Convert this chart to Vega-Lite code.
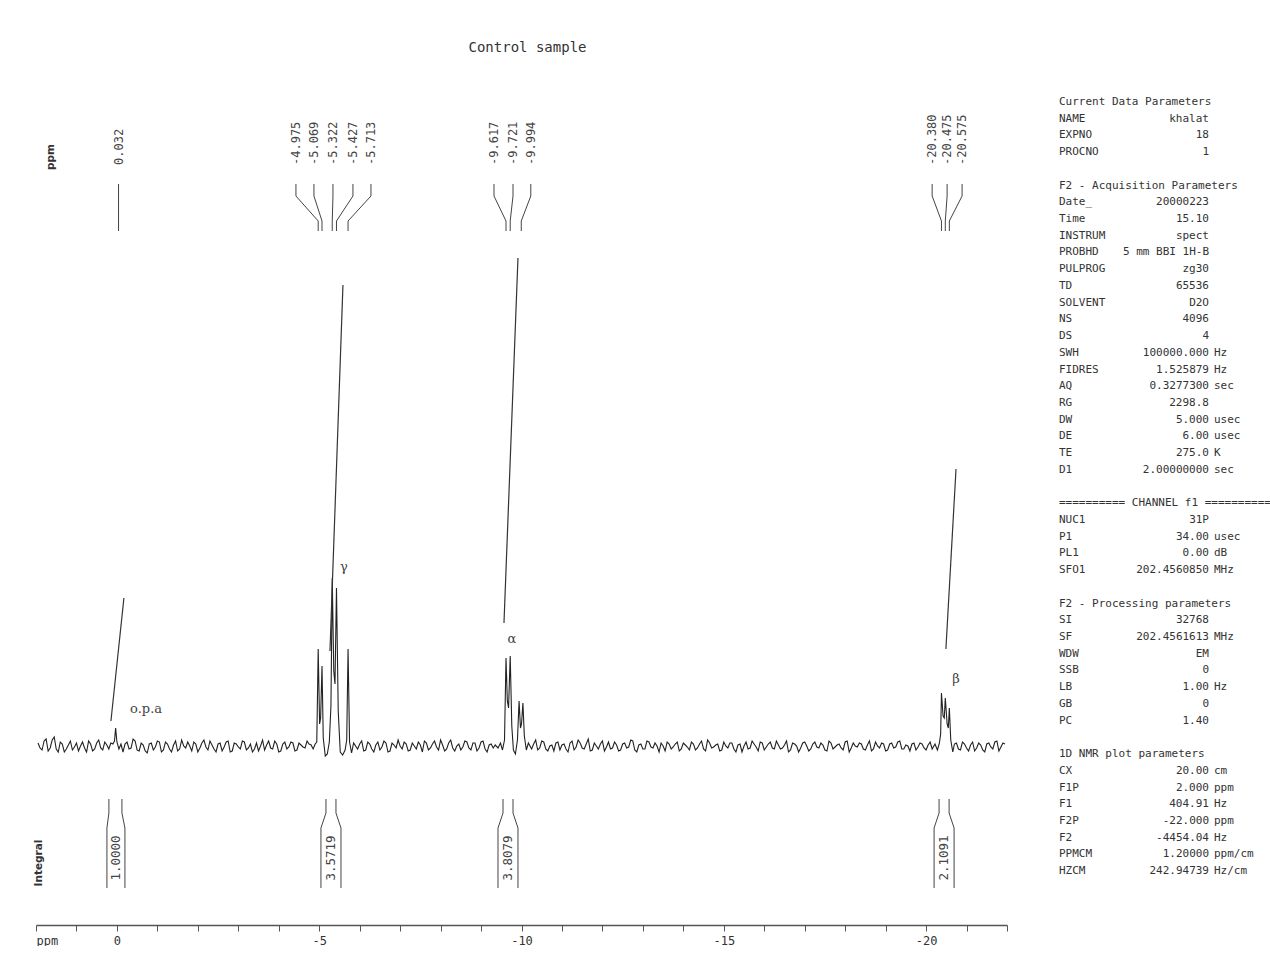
{
  "$schema": "https://vega.github.io/schema/vega-lite/v6.json",
  "background": "white",
  "padding": {"left": 33, "top": 41, "right": 0, "bottom": 0},
  "bounds": "flush",
  "spacing": 52,
  "config": {"view": {"stroke": null}},
  "datasets": {
    "spectrum": [
      {"ppm":1.95,"intensity":3},{"ppm":1.85,"intensity":-4},{"ppm":1.75,"intensity":7},{"ppm":1.65,"intensity":-2},{"ppm":1.55,"intensity":9},{"ppm":1.45,"intensity":-6},{"ppm":1.35,"intensity":2},{"ppm":1.25,"intensity":-3},{"ppm":1.15,"intensity":5},{"ppm":1.05,"intensity":-1},
      {"ppm":0.95,"intensity":-5},{"ppm":0.85,"intensity":4},{"ppm":0.75,"intensity":-6},{"ppm":0.65,"intensity":2},{"ppm":0.55,"intensity":-3},{"ppm":0.45,"intensity":6},{"ppm":0.35,"intensity":-4},{"ppm":0.25,"intensity":1},{"ppm":0.15,"intensity":3},
      {"ppm":1.9,"intensity":-2},{"ppm":1.8,"intensity":5},{"ppm":1.7,"intensity":-5},{"ppm":1.6,"intensity":6},{"ppm":1.5,"intensity":-3},{"ppm":1.4,"intensity":4},{"ppm":1.3,"intensity":-6},{"ppm":1.2,"intensity":1},{"ppm":1.1,"intensity":-4},{"ppm":1.0,"intensity":3},
      {"ppm":0.9,"intensity":0},{"ppm":0.8,"intensity":-2},{"ppm":0.7,"intensity":5},{"ppm":0.6,"intensity":-5},{"ppm":0.5,"intensity":3},{"ppm":0.4,"intensity":-2},{"ppm":0.3,"intensity":4},{"ppm":0.2,"intensity":-3},
      {"ppm":0.1,"intensity":2},{"ppm":0.06,"intensity":5},{"ppm":0.032,"intensity":18},{"ppm":0.0,"intensity":4},{"ppm":-0.05,"intensity":-3},{"ppm":-0.1,"intensity":2},
      {"ppm":-0.15,"intensity":-6},{"ppm":-0.25,"intensity":4},{"ppm":-0.35,"intensity":-2},{"ppm":-0.45,"intensity":5},{"ppm":-0.55,"intensity":-5},{"ppm":-0.65,"intensity":1},{"ppm":-0.75,"intensity":-7},{"ppm":-0.85,"intensity":3},{"ppm":-0.95,"intensity":-1},
      {"ppm":-1.05,"intensity":4},{"ppm":-1.15,"intensity":-4},{"ppm":-1.25,"intensity":2},{"ppm":-1.35,"intensity":-6},{"ppm":-1.45,"intensity":5},{"ppm":-1.55,"intensity":-3},{"ppm":-1.65,"intensity":0},{"ppm":-1.75,"intensity":4},{"ppm":-1.85,"intensity":-5},{"ppm":-1.95,"intensity":2},
      {"ppm":-2.05,"intensity":-2},{"ppm":-2.15,"intensity":6},{"ppm":-2.25,"intensity":-4},{"ppm":-2.35,"intensity":1},{"ppm":-2.45,"intensity":-6},{"ppm":-2.55,"intensity":3},{"ppm":-2.65,"intensity":-1},{"ppm":-2.75,"intensity":5},{"ppm":-2.85,"intensity":-5},{"ppm":-2.95,"intensity":2},
      {"ppm":-3.05,"intensity":-3},{"ppm":-3.15,"intensity":4},{"ppm":-3.25,"intensity":-2},{"ppm":-3.35,"intensity":-6},{"ppm":-3.45,"intensity":3},{"ppm":-3.55,"intensity":0},{"ppm":-3.65,"intensity":-4},{"ppm":-3.75,"intensity":5},{"ppm":-3.85,"intensity":-3},{"ppm":-3.95,"intensity":2},
      {"ppm":-4.05,"intensity":-5},{"ppm":-4.15,"intensity":4},{"ppm":-4.25,"intensity":-1},{"ppm":-4.35,"intensity":3},{"ppm":-4.45,"intensity":-4},{"ppm":-4.55,"intensity":1},{"ppm":-4.65,"intensity":-2},{"ppm":-4.75,"intensity":2},
      {"ppm":-0.2,"intensity":2},{"ppm":-0.3,"intensity":-3},{"ppm":-0.4,"intensity":7},{"ppm":-0.5,"intensity":-4},{"ppm":-0.6,"intensity":3},{"ppm":-0.7,"intensity":-5},{"ppm":-0.8,"intensity":2},{"ppm":-0.9,"intensity":-4},{"ppm":-1.0,"intensity":5},{"ppm":-1.1,"intensity":-6},
      {"ppm":-1.2,"intensity":4},{"ppm":-1.3,"intensity":-3},{"ppm":-1.4,"intensity":1},{"ppm":-1.5,"intensity":-5},{"ppm":-1.6,"intensity":6},{"ppm":-1.7,"intensity":-2},{"ppm":-1.8,"intensity":0},{"ppm":-1.9,"intensity":4},{"ppm":-2.0,"intensity":-6},{"ppm":-2.1,"intensity":3},
      {"ppm":-2.2,"intensity":-1},{"ppm":-2.3,"intensity":5},{"ppm":-2.4,"intensity":-3},{"ppm":-2.5,"intensity":2},{"ppm":-2.6,"intensity":-5},{"ppm":-2.7,"intensity":4},{"ppm":-2.8,"intensity":-6},{"ppm":-2.9,"intensity":3},{"ppm":-3.0,"intensity":-1},{"ppm":-3.1,"intensity":5},
      {"ppm":-3.2,"intensity":-4},{"ppm":-3.3,"intensity":2},{"ppm":-3.4,"intensity":-3},{"ppm":-3.5,"intensity":-5},{"ppm":-3.6,"intensity":6},{"ppm":-3.7,"intensity":1},{"ppm":-3.8,"intensity":-2},{"ppm":-3.9,"intensity":5},{"ppm":-4.0,"intensity":-6},{"ppm":-4.1,"intensity":2},
      {"ppm":-4.2,"intensity":-3},{"ppm":-4.3,"intensity":4},{"ppm":-4.4,"intensity":-5},{"ppm":-4.5,"intensity":3},{"ppm":-4.6,"intensity":-1},{"ppm":-4.7,"intensity":5},
      {"ppm":-4.8,"intensity":1},{"ppm":-4.85,"intensity":-3},{"ppm":-4.9,"intensity":2},{"ppm":-4.94,"intensity":4},{"ppm":-4.975,"intensity":97},{"ppm":-5.01,"intensity":22},{"ppm":-5.035,"intensity":28},{"ppm":-5.069,"intensity":80},{"ppm":-5.1,"intensity":8},{"ppm":-5.15,"intensity":-10},{"ppm":-5.2,"intensity":-8},{"ppm":-5.25,"intensity":4},{"ppm":-5.29,"intensity":40},{"ppm":-5.322,"intensity":168},{"ppm":-5.36,"intensity":75},{"ppm":-5.39,"intensity":62},{"ppm":-5.427,"intensity":158},{"ppm":-5.47,"intensity":35},{"ppm":-5.52,"intensity":-6},{"ppm":-5.58,"intensity":-9},{"ppm":-5.64,"intensity":-4},{"ppm":-5.68,"intensity":6},{"ppm":-5.713,"intensity":97},{"ppm":-5.75,"intensity":4},{"ppm":-5.8,"intensity":-7},{"ppm":-5.85,"intensity":3},
      {"ppm":-5.95,"intensity":-3},{"ppm":-6.05,"intensity":5},{"ppm":-6.15,"intensity":-4},{"ppm":-6.25,"intensity":2},{"ppm":-6.35,"intensity":-6},{"ppm":-6.45,"intensity":4},{"ppm":-6.55,"intensity":-1},{"ppm":-6.65,"intensity":3},{"ppm":-6.75,"intensity":-5},{"ppm":-6.85,"intensity":1},
      {"ppm":-6.95,"intensity":6},{"ppm":-7.05,"intensity":-3},{"ppm":-7.15,"intensity":2},{"ppm":-7.25,"intensity":-4},{"ppm":-7.35,"intensity":0},{"ppm":-7.45,"intensity":4},{"ppm":-7.55,"intensity":-6},{"ppm":-7.65,"intensity":3},{"ppm":-7.75,"intensity":-2},{"ppm":-7.85,"intensity":5},
      {"ppm":-7.95,"intensity":-4},{"ppm":-8.05,"intensity":1},{"ppm":-8.15,"intensity":-3},{"ppm":-8.25,"intensity":6},{"ppm":-8.35,"intensity":-5},{"ppm":-8.45,"intensity":2},{"ppm":-8.55,"intensity":-1},{"ppm":-8.65,"intensity":4},{"ppm":-8.75,"intensity":-4},{"ppm":-8.85,"intensity":3},
      {"ppm":-8.95,"intensity":-2},{"ppm":-9.05,"intensity":5},{"ppm":-9.15,"intensity":-6},{"ppm":-9.25,"intensity":2},{"ppm":-9.35,"intensity":1},
      {"ppm":-6.0,"intensity":2},{"ppm":-6.1,"intensity":-5},{"ppm":-6.2,"intensity":4},{"ppm":-6.3,"intensity":-3},{"ppm":-6.4,"intensity":1},{"ppm":-6.5,"intensity":-4},{"ppm":-6.6,"intensity":5},{"ppm":-6.7,"intensity":-6},{"ppm":-6.8,"intensity":3},{"ppm":-6.9,"intensity":-2},
      {"ppm":-7.0,"intensity":0},{"ppm":-7.1,"intensity":4},{"ppm":-7.2,"intensity":-5},{"ppm":-7.3,"intensity":3},{"ppm":-7.4,"intensity":-3},{"ppm":-7.5,"intensity":1},{"ppm":-7.6,"intensity":5},{"ppm":-7.7,"intensity":-4},{"ppm":-7.8,"intensity":2},{"ppm":-7.9,"intensity":-1},
      {"ppm":-8.0,"intensity":6},{"ppm":-8.1,"intensity":-5},{"ppm":-8.2,"intensity":3},{"ppm":-8.3,"intensity":-2},{"ppm":-8.4,"intensity":0},{"ppm":-8.5,"intensity":-4},{"ppm":-8.6,"intensity":5},{"ppm":-8.7,"intensity":-2},{"ppm":-8.8,"intensity":3},{"ppm":-8.9,"intensity":-5},
      {"ppm":-9.0,"intensity":4},{"ppm":-9.1,"intensity":-3},{"ppm":-9.2,"intensity":1},{"ppm":-9.3,"intensity":-2},
      {"ppm":-9.42,"intensity":-2},{"ppm":-9.48,"intensity":3},{"ppm":-9.53,"intensity":-4},{"ppm":-9.58,"intensity":6},{"ppm":-9.617,"intensity":88},{"ppm":-9.65,"intensity":45},{"ppm":-9.68,"intensity":38},{"ppm":-9.721,"intensity":90},{"ppm":-9.76,"intensity":20},{"ppm":-9.8,"intensity":-4},{"ppm":-9.85,"intensity":-8},{"ppm":-9.9,"intensity":6},{"ppm":-9.94,"intensity":45},{"ppm":-9.975,"intensity":18},{"ppm":-10.0,"intensity":22},{"ppm":-10.035,"intensity":43},{"ppm":-10.07,"intensity":10},{"ppm":-10.12,"intensity":-4},{"ppm":-10.17,"intensity":3},
      {"ppm":-10.25,"intensity":-3},{"ppm":-10.35,"intensity":6},{"ppm":-10.45,"intensity":-2},{"ppm":-10.55,"intensity":4},{"ppm":-10.65,"intensity":-5},{"ppm":-10.75,"intensity":1},{"ppm":-10.85,"intensity":3},{"ppm":-10.95,"intensity":-4},{"ppm":-11.05,"intensity":2},{"ppm":-11.15,"intensity":-6},
      {"ppm":-11.25,"intensity":5},{"ppm":-11.35,"intensity":-1},{"ppm":-11.45,"intensity":3},{"ppm":-11.55,"intensity":-3},{"ppm":-11.65,"intensity":7},{"ppm":-11.75,"intensity":-4},{"ppm":-11.85,"intensity":0},{"ppm":-11.95,"intensity":2},{"ppm":-12.05,"intensity":-5},{"ppm":-12.15,"intensity":4},
      {"ppm":-12.25,"intensity":-2},{"ppm":-12.35,"intensity":1},{"ppm":-12.45,"intensity":-4},{"ppm":-12.55,"intensity":3},{"ppm":-12.65,"intensity":-1},{"ppm":-12.75,"intensity":5},{"ppm":-12.85,"intensity":-6},{"ppm":-12.95,"intensity":2},{"ppm":-13.05,"intensity":-3},{"ppm":-13.15,"intensity":4},
      {"ppm":-13.25,"intensity":-2},{"ppm":-13.35,"intensity":0},{"ppm":-13.45,"intensity":3},{"ppm":-13.55,"intensity":-5},{"ppm":-13.65,"intensity":2},{"ppm":-13.75,"intensity":-1},{"ppm":-13.85,"intensity":4},{"ppm":-13.95,"intensity":-3},{"ppm":-14.05,"intensity":1},{"ppm":-14.15,"intensity":-4},
      {"ppm":-14.25,"intensity":2},{"ppm":-14.35,"intensity":-2},{"ppm":-14.45,"intensity":5},{"ppm":-14.55,"intensity":-5},{"ppm":-14.65,"intensity":3},{"ppm":-14.75,"intensity":-1},{"ppm":-14.85,"intensity":2},{"ppm":-14.95,"intensity":-4},{"ppm":-15.05,"intensity":0},{"ppm":-15.15,"intensity":3},
      {"ppm":-15.25,"intensity":-3},{"ppm":-15.35,"intensity":1},{"ppm":-15.45,"intensity":-6},{"ppm":-15.55,"intensity":4},{"ppm":-15.65,"intensity":-2},{"ppm":-15.75,"intensity":2},{"ppm":-15.85,"intensity":-5},{"ppm":-15.95,"intensity":3},{"ppm":-16.05,"intensity":-1},{"ppm":-16.15,"intensity":4},
      {"ppm":-16.25,"intensity":-3},{"ppm":-16.35,"intensity":1},{"ppm":-16.45,"intensity":-2},{"ppm":-16.55,"intensity":5},{"ppm":-16.65,"intensity":-4},{"ppm":-16.75,"intensity":2},{"ppm":-16.85,"intensity":-6},{"ppm":-16.95,"intensity":3},{"ppm":-17.05,"intensity":0},{"ppm":-17.15,"intensity":-3},
      {"ppm":-17.25,"intensity":4},{"ppm":-17.35,"intensity":-2},{"ppm":-17.45,"intensity":1},{"ppm":-17.55,"intensity":-5},{"ppm":-17.65,"intensity":3},{"ppm":-17.75,"intensity":-1},{"ppm":-17.85,"intensity":2},{"ppm":-17.95,"intensity":-4},{"ppm":-18.05,"intensity":5},{"ppm":-18.15,"intensity":-2},
      {"ppm":-18.25,"intensity":0},{"ppm":-18.35,"intensity":3},{"ppm":-18.45,"intensity":-3},{"ppm":-18.55,"intensity":1},{"ppm":-18.65,"intensity":-5},{"ppm":-18.75,"intensity":4},{"ppm":-18.85,"intensity":-2},{"ppm":-18.95,"intensity":2},{"ppm":-19.05,"intensity":-4},{"ppm":-19.15,"intensity":3},
      {"ppm":-19.25,"intensity":-1},{"ppm":-19.35,"intensity":5},{"ppm":-19.45,"intensity":-3},{"ppm":-19.55,"intensity":0},{"ppm":-19.65,"intensity":2},{"ppm":-19.75,"intensity":-4},{"ppm":-19.85,"intensity":3},{"ppm":-19.95,"intensity":-2},{"ppm":-20.05,"intensity":1},{"ppm":-20.15,"intensity":-3},
      {"ppm":-10.3,"intensity":2},{"ppm":-10.4,"intensity":-4},{"ppm":-10.5,"intensity":5},{"ppm":-10.6,"intensity":-3},{"ppm":-10.7,"intensity":0},{"ppm":-10.8,"intensity":-5},{"ppm":-10.9,"intensity":4},{"ppm":-11.0,"intensity":1},{"ppm":-11.1,"intensity":-3},{"ppm":-11.2,"intensity":3},
      {"ppm":-11.3,"intensity":-4},{"ppm":-11.4,"intensity":6},{"ppm":-11.5,"intensity":-2},{"ppm":-11.6,"intensity":2},{"ppm":-11.7,"intensity":-5},{"ppm":-11.8,"intensity":3},{"ppm":-11.9,"intensity":-3},{"ppm":-12.0,"intensity":5},{"ppm":-12.1,"intensity":-1},{"ppm":-12.2,"intensity":-3},
      {"ppm":-12.3,"intensity":4},{"ppm":-12.4,"intensity":-5},{"ppm":-12.5,"intensity":2},{"ppm":-12.6,"intensity":-2},{"ppm":-12.7,"intensity":6},{"ppm":-12.8,"intensity":-4},{"ppm":-12.9,"intensity":1},{"ppm":-13.0,"intensity":-3},{"ppm":-13.1,"intensity":5},{"ppm":-13.2,"intensity":-1},
      {"ppm":-13.3,"intensity":3},{"ppm":-13.4,"intensity":-6},{"ppm":-13.5,"intensity":0},{"ppm":-13.6,"intensity":4},{"ppm":-13.7,"intensity":-3},{"ppm":-13.8,"intensity":2},{"ppm":-13.9,"intensity":-5},{"ppm":-14.0,"intensity":3},{"ppm":-14.1,"intensity":-1},{"ppm":-14.2,"intensity":4},
      {"ppm":-14.3,"intensity":-4},{"ppm":-14.4,"intensity":2},{"ppm":-14.5,"intensity":-3},{"ppm":-14.6,"intensity":6},{"ppm":-14.7,"intensity":-2},{"ppm":-14.8,"intensity":1},{"ppm":-14.9,"intensity":-5},{"ppm":-15.0,"intensity":4},{"ppm":-15.1,"intensity":-2},{"ppm":-15.2,"intensity":3},
      {"ppm":-15.3,"intensity":-6},{"ppm":-15.4,"intensity":2},{"ppm":-15.5,"intensity":0},{"ppm":-15.6,"intensity":-3},{"ppm":-15.7,"intensity":5},{"ppm":-15.8,"intensity":-1},{"ppm":-15.9,"intensity":4},{"ppm":-16.0,"intensity":-4},{"ppm":-16.1,"intensity":2},{"ppm":-16.2,"intensity":-2},
      {"ppm":-16.3,"intensity":5},{"ppm":-16.4,"intensity":-3},{"ppm":-16.5,"intensity":1},{"ppm":-16.6,"intensity":-6},{"ppm":-16.7,"intensity":3},{"ppm":-16.8,"intensity":0},{"ppm":-16.9,"intensity":-2},{"ppm":-17.0,"intensity":4},{"ppm":-17.1,"intensity":-5},{"ppm":-17.2,"intensity":2},
      {"ppm":-17.3,"intensity":-1},{"ppm":-17.4,"intensity":3},{"ppm":-17.5,"intensity":-4},{"ppm":-17.6,"intensity":5},{"ppm":-17.7,"intensity":-3},{"ppm":-17.8,"intensity":1},{"ppm":-17.9,"intensity":-2},{"ppm":-18.0,"intensity":4},{"ppm":-18.1,"intensity":-6},{"ppm":-18.2,"intensity":3},
      {"ppm":-18.3,"intensity":-1},{"ppm":-18.4,"intensity":2},{"ppm":-18.5,"intensity":-4},{"ppm":-18.6,"intensity":5},{"ppm":-18.7,"intensity":-3},{"ppm":-18.8,"intensity":0},{"ppm":-18.9,"intensity":3},{"ppm":-19.0,"intensity":-5},{"ppm":-19.1,"intensity":2},{"ppm":-19.2,"intensity":-2},
      {"ppm":-19.3,"intensity":4},{"ppm":-19.4,"intensity":-3},{"ppm":-19.5,"intensity":1},{"ppm":-19.6,"intensity":-5},{"ppm":-19.7,"intensity":3},{"ppm":-19.8,"intensity":-1},{"ppm":-19.9,"intensity":2},{"ppm":-20.0,"intensity":-4},{"ppm":-20.1,"intensity":4},
      {"ppm":-20.22,"intensity":2},{"ppm":-20.28,"intensity":-4},{"ppm":-20.33,"intensity":3},{"ppm":-20.36,"intensity":12},{"ppm":-20.38,"intensity":53},{"ppm":-20.42,"intensity":30},{"ppm":-20.45,"intensity":28},{"ppm":-20.475,"intensity":48},{"ppm":-20.52,"intensity":22},{"ppm":-20.55,"intensity":18},{"ppm":-20.575,"intensity":38},{"ppm":-20.61,"intensity":6},{"ppm":-20.66,"intensity":-6},{"ppm":-20.7,"intensity":2},
      {"ppm":-20.75,"intensity":3},{"ppm":-20.85,"intensity":-4},{"ppm":-20.95,"intensity":2},{"ppm":-21.05,"intensity":-5},{"ppm":-21.15,"intensity":4},{"ppm":-21.25,"intensity":-2},{"ppm":-21.35,"intensity":1},{"ppm":-21.45,"intensity":-6},{"ppm":-21.55,"intensity":3},{"ppm":-21.65,"intensity":-3},{"ppm":-21.75,"intensity":5},{"ppm":-21.85,"intensity":-1},{"ppm":-21.95,"intensity":2},
      {"ppm":-20.8,"intensity":-3},{"ppm":-20.9,"intensity":4},{"ppm":-21.0,"intensity":-2},{"ppm":-21.1,"intensity":1},{"ppm":-21.2,"intensity":-5},{"ppm":-21.3,"intensity":3},{"ppm":-21.4,"intensity":-4},{"ppm":-21.5,"intensity":2},{"ppm":-21.6,"intensity":-1},{"ppm":-21.7,"intensity":4},{"ppm":-21.8,"intensity":-5},{"ppm":-21.9,"intensity":3}
    ],
    "integrals": [
      {"region":"opa","ppm":0.148,"intensity":25},{"region":"opa","ppm":-0.173,"intensity":148},
      {"region":"gamma","ppm":-5.266,"intensity":95},{"region":"gamma","ppm":-5.587,"intensity":461},
      {"region":"alpha","ppm":-9.567,"intensity":123},{"region":"alpha","ppm":-9.913,"intensity":488},
      {"region":"beta","ppm":-20.49,"intensity":97},{"region":"beta","ppm":-20.74,"intensity":277}
    ],
    "connectors": [
      {"peak":"0.032","ppm":-0.04,"intensity":562,"ord":1},{"peak":"0.032","ppm":-0.04,"intensity":515,"ord":2},
      {"peak":"-4.975","ppm":-4.425,"intensity":562,"ord":1},{"peak":"-4.975","ppm":-4.425,"intensity":550,"ord":2},{"peak":"-4.975","ppm":-4.975,"intensity":525,"ord":3},{"peak":"-4.975","ppm":-4.975,"intensity":515,"ord":4},
      {"peak":"-5.069","ppm":-4.87,"intensity":562,"ord":1},{"peak":"-5.069","ppm":-4.87,"intensity":550,"ord":2},{"peak":"-5.069","ppm":-5.069,"intensity":525,"ord":3},{"peak":"-5.069","ppm":-5.069,"intensity":515,"ord":4},
      {"peak":"-5.322","ppm":-5.34,"intensity":562,"ord":1},{"peak":"-5.322","ppm":-5.34,"intensity":550,"ord":2},{"peak":"-5.322","ppm":-5.322,"intensity":525,"ord":3},{"peak":"-5.322","ppm":-5.322,"intensity":515,"ord":4},
      {"peak":"-5.427","ppm":-5.834,"intensity":562,"ord":1},{"peak":"-5.427","ppm":-5.834,"intensity":550,"ord":2},{"peak":"-5.427","ppm":-5.427,"intensity":525,"ord":3},{"peak":"-5.427","ppm":-5.427,"intensity":515,"ord":4},
      {"peak":"-5.713","ppm":-6.279,"intensity":562,"ord":1},{"peak":"-5.713","ppm":-6.279,"intensity":550,"ord":2},{"peak":"-5.713","ppm":-5.713,"intensity":525,"ord":3},{"peak":"-5.713","ppm":-5.713,"intensity":515,"ord":4},
      {"peak":"-9.617","ppm":-9.32,"intensity":562,"ord":1},{"peak":"-9.617","ppm":-9.32,"intensity":550,"ord":2},{"peak":"-9.617","ppm":-9.617,"intensity":525,"ord":3},{"peak":"-9.617","ppm":-9.617,"intensity":515,"ord":4},
      {"peak":"-9.721","ppm":-9.79,"intensity":562,"ord":1},{"peak":"-9.721","ppm":-9.79,"intensity":550,"ord":2},{"peak":"-9.721","ppm":-9.721,"intensity":525,"ord":3},{"peak":"-9.721","ppm":-9.721,"intensity":515,"ord":4},
      {"peak":"-9.994","ppm":-10.23,"intensity":562,"ord":1},{"peak":"-9.994","ppm":-10.23,"intensity":550,"ord":2},{"peak":"-9.994","ppm":-9.994,"intensity":525,"ord":3},{"peak":"-9.994","ppm":-9.994,"intensity":515,"ord":4},
      {"peak":"-20.380","ppm":-20.15,"intensity":562,"ord":1},{"peak":"-20.380","ppm":-20.15,"intensity":550,"ord":2},{"peak":"-20.380","ppm":-20.38,"intensity":525,"ord":3},{"peak":"-20.380","ppm":-20.38,"intensity":515,"ord":4},
      {"peak":"-20.475","ppm":-20.52,"intensity":562,"ord":1},{"peak":"-20.475","ppm":-20.52,"intensity":550,"ord":2},{"peak":"-20.475","ppm":-20.475,"intensity":525,"ord":3},{"peak":"-20.475","ppm":-20.475,"intensity":515,"ord":4},
      {"peak":"-20.575","ppm":-20.89,"intensity":562,"ord":1},{"peak":"-20.575","ppm":-20.89,"intensity":550,"ord":2},{"peak":"-20.575","ppm":-20.575,"intensity":525,"ord":3},{"peak":"-20.575","ppm":-20.575,"intensity":515,"ord":4}
    ],
    "peaklabels": [
      {"label":"0.032","ppm":-0.04,"intensity":581},
      {"label":"-4.975","ppm":-4.425,"intensity":581},{"label":"-5.069","ppm":-4.87,"intensity":581},{"label":"-5.322","ppm":-5.34,"intensity":581},{"label":"-5.427","ppm":-5.834,"intensity":581},{"label":"-5.713","ppm":-6.279,"intensity":581},
      {"label":"-9.617","ppm":-9.32,"intensity":581},{"label":"-9.721","ppm":-9.79,"intensity":581},{"label":"-9.994","ppm":-10.23,"intensity":581},
      {"label":"-20.380","ppm":-20.15,"intensity":581},{"label":"-20.475","ppm":-20.52,"intensity":581},{"label":"-20.575","ppm":-20.89,"intensity":581}
    ],
    "brackets": [
      {"id":"i1L","ppm":0.198,"intensity":-53,"ord":1},{"id":"i1L","ppm":0.198,"intensity":-67,"ord":2},{"id":"i1L","ppm":0.247,"intensity":-82,"ord":3},{"id":"i1L","ppm":0.247,"intensity":-142,"ord":4},
      {"id":"i1R","ppm":-0.124,"intensity":-53,"ord":1},{"id":"i1R","ppm":-0.124,"intensity":-67,"ord":2},{"id":"i1R","ppm":-0.198,"intensity":-82,"ord":3},{"id":"i1R","ppm":-0.198,"intensity":-142,"ord":4},
      {"id":"i2L","ppm":-5.167,"intensity":-53,"ord":1},{"id":"i2L","ppm":-5.167,"intensity":-67,"ord":2},{"id":"i2L","ppm":-5.043,"intensity":-82,"ord":3},{"id":"i2L","ppm":-5.043,"intensity":-142,"ord":4},
      {"id":"i2R","ppm":-5.414,"intensity":-53,"ord":1},{"id":"i2R","ppm":-5.414,"intensity":-67,"ord":2},{"id":"i2R","ppm":-5.538,"intensity":-82,"ord":3},{"id":"i2R","ppm":-5.538,"intensity":-142,"ord":4},
      {"id":"i3L","ppm":-9.543,"intensity":-53,"ord":1},{"id":"i3L","ppm":-9.543,"intensity":-67,"ord":2},{"id":"i3L","ppm":-9.419,"intensity":-82,"ord":3},{"id":"i3L","ppm":-9.419,"intensity":-142,"ord":4},
      {"id":"i3R","ppm":-9.79,"intensity":-53,"ord":1},{"id":"i3R","ppm":-9.79,"intensity":-67,"ord":2},{"id":"i3R","ppm":-9.913,"intensity":-82,"ord":3},{"id":"i3R","ppm":-9.913,"intensity":-142,"ord":4},
      {"id":"i4L","ppm":-20.321,"intensity":-53,"ord":1},{"id":"i4L","ppm":-20.321,"intensity":-67,"ord":2},{"id":"i4L","ppm":-20.198,"intensity":-82,"ord":3},{"id":"i4L","ppm":-20.198,"intensity":-142,"ord":4},
      {"id":"i4R","ppm":-20.569,"intensity":-53,"ord":1},{"id":"i4R","ppm":-20.569,"intensity":-67,"ord":2},{"id":"i4R","ppm":-20.692,"intensity":-82,"ord":3},{"id":"i4R","ppm":-20.692,"intensity":-142,"ord":4}
    ],
    "integralvalues": [
      {"value":"1.0000","ppm":0.025,"intensity":-112},{"value":"3.5719","ppm":-5.29,"intensity":-112},{"value":"3.8079","ppm":-9.666,"intensity":-112},{"value":"2.1091","ppm":-20.445,"intensity":-112}
    ],
    "annotations": [
      {"label":"o.p.a","ppm":-0.72,"intensity":37},{"label":"γ","ppm":-5.61,"intensity":179},{"label":"α","ppm":-9.765,"intensity":107},{"label":"β","ppm":-20.74,"intensity":67}
    ],
    "sidelabels": [
      {"label":"ppm","ppm":1.63,"intensity":589},{"label":"Integral","ppm":1.93,"intensity":-117}
    ],
    "params": [
      {"line":1,"label":"Current Data Parameters","value":"","unit":""},
      {"line":2,"label":"NAME","value":"khalat","unit":""},
      {"line":3,"label":"EXPNO","value":"18","unit":""},
      {"line":4,"label":"PROCNO","value":"1","unit":""},
      {"line":6,"label":"F2 - Acquisition Parameters","value":"","unit":""},
      {"line":7,"label":"Date_","value":"20000223","unit":""},
      {"line":8,"label":"Time","value":"15.10","unit":""},
      {"line":9,"label":"INSTRUM","value":"spect","unit":""},
      {"line":10,"label":"PROBHD","value":"5 mm BBI 1H-B","unit":""},
      {"line":11,"label":"PULPROG","value":"zg30","unit":""},
      {"line":12,"label":"TD","value":"65536","unit":""},
      {"line":13,"label":"SOLVENT","value":"D2O","unit":""},
      {"line":14,"label":"NS","value":"4096","unit":""},
      {"line":15,"label":"DS","value":"4","unit":""},
      {"line":16,"label":"SWH","value":"100000.000","unit":"Hz"},
      {"line":17,"label":"FIDRES","value":"1.525879","unit":"Hz"},
      {"line":18,"label":"AQ","value":"0.3277300","unit":"sec"},
      {"line":19,"label":"RG","value":"2298.8","unit":""},
      {"line":20,"label":"DW","value":"5.000","unit":"usec"},
      {"line":21,"label":"DE","value":"6.00","unit":"usec"},
      {"line":22,"label":"TE","value":"275.0","unit":"K"},
      {"line":23,"label":"D1","value":"2.00000000","unit":"sec"},
      {"line":25,"label":"========== CHANNEL f1 ==========","value":"","unit":""},
      {"line":26,"label":"NUC1","value":"31P","unit":""},
      {"line":27,"label":"P1","value":"34.00","unit":"usec"},
      {"line":28,"label":"PL1","value":"0.00","unit":"dB"},
      {"line":29,"label":"SFO1","value":"202.4560850","unit":"MHz"},
      {"line":31,"label":"F2 - Processing parameters","value":"","unit":""},
      {"line":32,"label":"SI","value":"32768","unit":""},
      {"line":33,"label":"SF","value":"202.4561613","unit":"MHz"},
      {"line":34,"label":"WDW","value":"EM","unit":""},
      {"line":35,"label":"SSB","value":"0","unit":""},
      {"line":36,"label":"LB","value":"1.00","unit":"Hz"},
      {"line":37,"label":"GB","value":"0","unit":""},
      {"line":38,"label":"PC","value":"1.40","unit":""},
      {"line":40,"label":"1D NMR plot parameters","value":"","unit":""},
      {"line":41,"label":"CX","value":"20.00","unit":"cm"},
      {"line":42,"label":"F1P","value":"2.000","unit":"ppm"},
      {"line":43,"label":"F1","value":"404.91","unit":"Hz"},
      {"line":44,"label":"F2P","value":"-22.000","unit":"ppm"},
      {"line":45,"label":"F2","value":"-4454.04","unit":"Hz"},
      {"line":46,"label":"PPMCM","value":"1.20000","unit":"ppm/cm"},
      {"line":47,"label":"HZCM","value":"242.94739","unit":"Hz/cm"}
    ]
  },
  "hconcat": [
    {
      "width": 971,
      "height": 864,
      "title": {"text": "Control sample", "font": "DejaVu Sans Mono", "fontSize": 14, "fontWeight": "normal", "color": "#333333", "offset": 6, "anchor": "middle", "dx": 6},
      "encoding": {
        "x": {
          "field": "ppm", "type": "quantitative",
          "scale": {"domain": [-22, 2], "reverse": true, "nice": false, "zero": false},
          "axis": {
            "title": null,
            "values": [-22,-21,-20,-19,-18,-17,-16,-15,-14,-13,-12,-11,-10,-9,-8,-7,-6,-5,-4,-3,-2,-1,0,1,2],
            "labelExpr": "datum.value == 2 ? 'ppm' : (datum.value % 5 == 0 ? '' + datum.value : '')",
            "labelAlign": {"condition": {"test": "datum.value == 2", "value": "left"}, "value": "center"},
            "labelOverlap": false,
            "labelFlush": false,
            "labelBound": false,
            "grid": false,
            "tickSize": 6,
            "tickColor": "#555555",
            "domainColor": "#555555",
            "domainWidth": 1.5,
            "labelFont": "DejaVu Sans Mono",
            "labelFontSize": 12,
            "labelColor": "#333333",
            "labelPadding": 4
          }
        },
        "y": {"field": "intensity", "type": "quantitative", "scale": {"domain": [-179, 685], "nice": false, "zero": false}, "axis": null}
      },
      "layer": [
        {"data": {"name": "spectrum"}, "mark": {"type": "line", "color": "#222222", "strokeWidth": 1.1}},
        {"data": {"name": "integrals"}, "mark": {"type": "line", "color": "#333333", "strokeWidth": 1.2}, "encoding": {"detail": {"field": "region"}}},
        {"data": {"name": "connectors"}, "mark": {"type": "line", "color": "#444444", "strokeWidth": 1}, "encoding": {"detail": {"field": "peak"}, "order": {"field": "ord", "type": "quantitative"}}},
        {"data": {"name": "brackets"}, "mark": {"type": "line", "color": "#444444", "strokeWidth": 1}, "encoding": {"detail": {"field": "id"}, "order": {"field": "ord", "type": "quantitative"}}},
        {"data": {"name": "peaklabels"}, "mark": {"type": "text", "angle": 270, "align": "left", "baseline": "middle", "font": "DejaVu Sans Mono", "fontSize": 12, "fill": "#444444"},
         "encoding": {"text": {"field": "label"}}},
        {"data": {"name": "integralvalues"}, "mark": {"type": "text", "angle": 270, "align": "center", "baseline": "middle", "font": "DejaVu Sans Mono", "fontSize": 12.5, "fill": "#444444"},
         "encoding": {"text": {"field": "value"}}},
        {"data": {"name": "annotations"}, "mark": {"type": "text", "align": "center", "baseline": "middle", "font": "DejaVu Serif", "fontSize": 13, "fill": "#444444"},
         "encoding": {"text": {"field": "label"}}},
        {"data": {"name": "sidelabels"}, "mark": {"type": "text", "angle": 270, "align": "center", "baseline": "middle", "font": "DejaVu Sans", "fontSize": 10.5, "fontWeight": "bold", "fill": "#333333"},
         "encoding": {"text": {"field": "label"}}}
      ]
    },
    {
      "width": 212,
      "height": 864,
      "data": {"name": "params"},
      "encoding": {
        "y": {"field": "line", "type": "quantitative", "scale": {"domain": [-1.45, 50.22], "reverse": true, "nice": false, "zero": false}, "axis": null}
      },
      "layer": [
        {"mark": {"type": "text", "align": "left", "baseline": "middle", "font": "DejaVu Sans Mono", "fontSize": 11, "fill": "#333333"},
         "encoding": {"x": {"datum": 0, "type": "quantitative", "scale": {"domain": [0, 212], "nice": false, "zero": false}, "axis": null}, "text": {"field": "label"}}},
        {"mark": {"type": "text", "align": "right", "baseline": "middle", "font": "DejaVu Sans Mono", "fontSize": 11, "fill": "#333333"},
         "encoding": {"x": {"datum": 150, "type": "quantitative", "scale": {"domain": [0, 212], "nice": false, "zero": false}, "axis": null}, "text": {"field": "value"}}},
        {"mark": {"type": "text", "align": "left", "baseline": "middle", "font": "DejaVu Sans Mono", "fontSize": 11, "fill": "#333333"},
         "encoding": {"x": {"datum": 155, "type": "quantitative", "scale": {"domain": [0, 212], "nice": false, "zero": false}, "axis": null}, "text": {"field": "unit"}}}
      ]
    }
  ]
}
